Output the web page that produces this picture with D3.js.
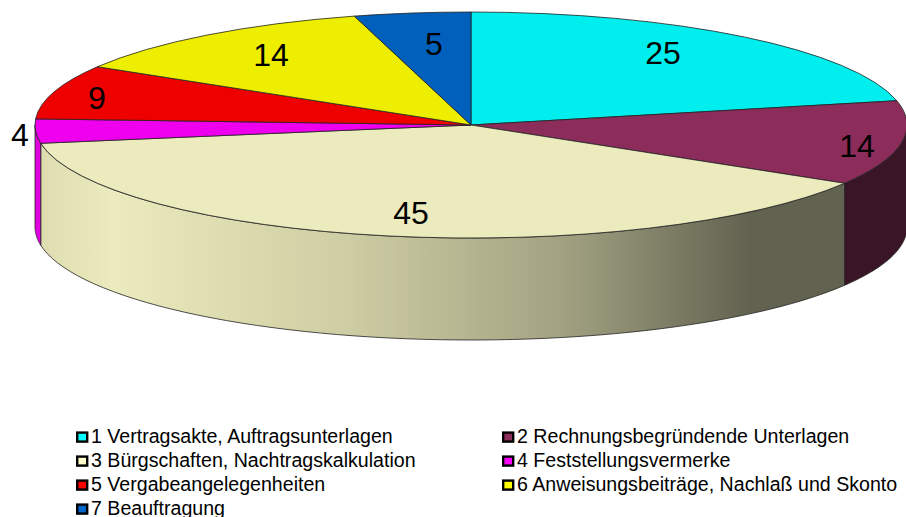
<!DOCTYPE html>
<html><head><meta charset="utf-8">
<script src="https://cdnjs.cloudflare.com/ajax/libs/d3/7.8.5/d3.min.js"></script>
<style>html,body{margin:0;padding:0;background:#fff;overflow:hidden}svg{display:block}text{font-family:"Liberation Sans",Arial,sans-serif;fill:#000}</style>
</head><body><svg id="c" width="906" height="517"></svg>
<script>
const categories=["1 Vertragsakte, Auftragsunterlagen","2 Rechnungsbegründende Unterlagen","3 Bürgschaften, Nachtragskalkulation","4 Feststellungsvermerke","5 Vergabeangelegenheiten","6 Anweisungsbeiträge, Nachlaß und Skonto","7 Beauftragung"];
const values=[25,14,45,4,9,14,5];
const topColors=["#00eeee","#8b2c5a","#ecebbd","#ee00ee","#ee0000","#eeee00","#0060bb"];
const swatchColors=["#00ffff","#8b2c5a","#ffffcc","#ff00ff","#ff0000","#ffff00","#0066cc"];
const sideColors=[null,"#3a1528",null,"#e000e0",null,null,null];
const labelNudges=[[192,-72],[386,21],[-60,88],[-451,10],[-374,-27],[-200,-70],[-37,-81]];

const W=906,H=517,cx=471,cy=125,rx=436,ry=113,depth=102;
const svg=d3.select("#c");
const defs=svg.append("defs");
const grad=defs.append("linearGradient").attr("id","wall").attr("gradientUnits","userSpaceOnUse")
  .attr("x1",cx-rx).attr("x2",cx+rx).attr("y1",0).attr("y2",0);
[[0,"#dcdcb0"],[.09,"#ecebbd"],[.35,"#cfcea4"],[.6,"#a3a383"],[.82,"#626250"],[1,"#626250"]]
 .forEach(s=>grad.append("stop").attr("offset",s[0]).attr("stop-color",s[1]));

const pie=d3.pie().sort(null).value(d=>d)(values);
const px=a=>cx+rx*Math.sin(a), py=a=>cy-ry*Math.cos(a);
const rimLine=d3.line().x(d=>d[0]).y(d=>d[1]);

const g=svg.append("g");
pie.forEach((p,i)=>{
  const a0=Math.max(p.startAngle,Math.PI/2),a1=Math.min(p.endAngle,Math.PI*1.5);
  if(a1<=a0)return;
  const steps=d3.range(0,61).map(k=>a0+(a1-a0)*k/60);
  const up=steps.map(a=>[px(a),py(a)]);
  const down=steps.slice().reverse().map(a=>[px(a),py(a)+depth]);
  g.append("path").attr("d",rimLine(up.concat(down))+"Z")
   .attr("fill",sideColors[i]||"url(#wall)").attr("stroke","#222").attr("stroke-width",.8).attr("stroke-linejoin","round");
});
const arc=d3.arc().innerRadius(0).outerRadius(rx);
svg.append("g").attr("transform",`translate(${cx},${cy}) scale(1,${ry/rx})`)
 .selectAll("path").data(pie).join("path").attr("d",arc)
 .attr("fill",(d,i)=>topColors[i]).attr("stroke","#222").attr("stroke-width",.8)
 .attr("vector-effect","non-scaling-stroke").attr("stroke-linejoin","round");
svg.append("g").selectAll("text").data(values).join("text")
 .attr("x",(d,i)=>cx+labelNudges[i][0]).attr("y",(d,i)=>cy+labelNudges[i][1])
 .attr("text-anchor","middle").attr("dominant-baseline","central").attr("font-size",32).text(d=>d);
const col=d3.scalePoint().domain([0,1]).range([77,503]);
const row=d3.scaleLinear().domain([0,3]).range([437,509]);
const lg=svg.append("g").selectAll("g").data(categories).join("g")
 .attr("transform",(d,i)=>`translate(${col(i%2)},${row(Math.floor(i/2))})`);
lg.append("rect").attr("x",.2).attr("y",-4.4).attr("width",10).attr("height",9)
 .attr("fill",(d,i)=>swatchColors[i]).attr("stroke","#000").attr("stroke-width",2.4);
lg.append("text").attr("x",14).attr("y",6).attr("font-size",19.6).text(d=>d);
</script></body></html>
